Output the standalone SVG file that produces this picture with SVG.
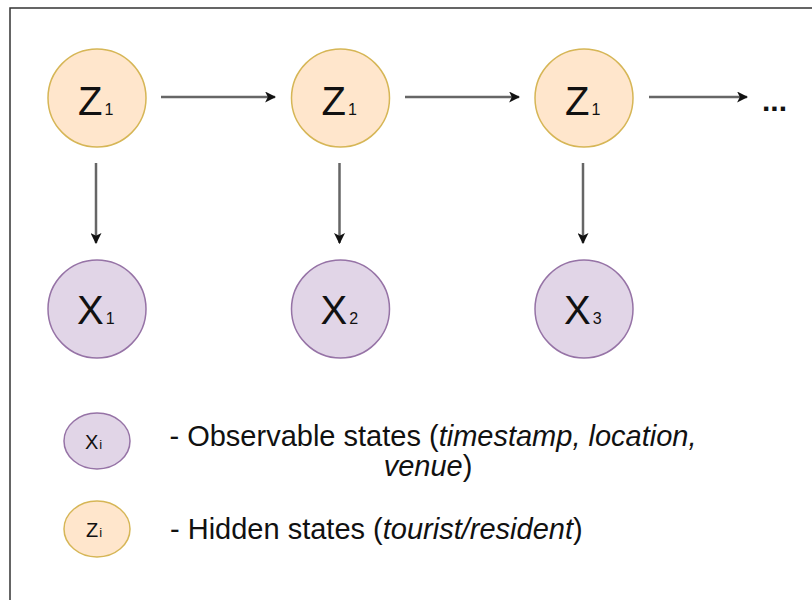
<svg xmlns="http://www.w3.org/2000/svg" width="812" height="600" viewBox="0 0 812 600">
  <style>
    .hidden { fill: #ffe6cc; stroke: #d6b656; stroke-width: 1.5; }
    .obs { fill: #e1d5e7; stroke: #9673a6; stroke-width: 1.5; }
    .big { font-family: "Liberation Sans", Arial, sans-serif; font-size: 40px; fill: #111; }
    .sub { font-family: "Liberation Sans", Arial, sans-serif; font-size: 16px; fill: #111; }
    .lg { font-family: "Liberation Sans", Arial, sans-serif; font-size: 20px; fill: #111; }
    .lgs { font-family: "Liberation Sans", Arial, sans-serif; font-size: 13px; fill: #111; }
    .txt { font-family: "Liberation Sans", Arial, sans-serif; font-size: 29px; fill: #111; }
    .dots { font-family: "Liberation Sans", Arial, sans-serif; font-size: 30px; font-weight: bold; fill: #111; }
    .edge { stroke: #666; stroke-width: 2.5; fill: none; marker-end: url(#arr); }
  </style>
  <defs>
    <marker id="arr" viewBox="0 0 10 10" refX="9" refY="5" markerWidth="11" markerHeight="11" markerUnits="userSpaceOnUse" orient="auto">
      <path d="M0,0 L10,5 L0,10 L2.5,5 Z" fill="#111"/>
    </marker>
  </defs>
  <rect x="0" y="0" width="812" height="600" fill="#fff"/>
  <!-- frame -->
  <path d="M10,600 V8 H812" fill="none" stroke="#333" stroke-width="1.5"/>

  <g id="connectors">
    <line class="edge" x1="161" y1="97" x2="275" y2="97"/>
    <line class="edge" x1="405" y1="97" x2="519" y2="97"/>
    <line class="edge" x1="649" y1="97" x2="747" y2="97"/>
    <line class="edge" x1="96" y1="163" x2="96" y2="243"/>
    <line class="edge" x1="339.5" y1="163" x2="339.5" y2="243"/>
    <line class="edge" x1="583" y1="163" x2="583" y2="243"/>
  </g>

  <g id="z1a">
    <circle class="hidden" cx="97" cy="98" r="49"/>
    <text class="big" x="78" y="115">Z<tspan class="sub" dx="2">1</tspan></text>
  </g>
  <g id="z1b">
    <circle class="hidden" cx="340.5" cy="98" r="49"/>
    <text class="big" x="321.5" y="115">Z<tspan class="sub" dx="2">1</tspan></text>
  </g>
  <g id="z1c">
    <circle class="hidden" cx="584" cy="98" r="49"/>
    <text class="big" x="565" y="115">Z<tspan class="sub" dx="2">1</tspan></text>
  </g>
  <g id="ellipsis">
    <text class="dots" x="762" y="111">...</text>
  </g>

  <g id="x1">
    <circle class="obs" cx="97" cy="309" r="49"/>
    <text class="big" x="77" y="324">X<tspan class="sub" dx="2">1</tspan></text>
  </g>
  <g id="x2">
    <circle class="obs" cx="340.5" cy="309" r="49"/>
    <text class="big" x="320.5" y="324">X<tspan class="sub" dx="2">2</tspan></text>
  </g>
  <g id="x3">
    <circle class="obs" cx="584" cy="309" r="49"/>
    <text class="big" x="564" y="324">X<tspan class="sub" dx="2">3</tspan></text>
  </g>

  <g id="legend-obs">
    <ellipse class="obs" cx="97" cy="441" rx="33" ry="28"/>
    <text class="lg" x="85" y="449">X<tspan class="lgs" dx="1">i</tspan></text>
    <text class="txt" text-anchor="middle" x="433" y="446">- Observable states (<tspan font-style="italic">timestamp, location,</tspan></text>
    <text class="txt" text-anchor="middle" x="428" y="476"><tspan font-style="italic">venue</tspan>)</text>
  </g>
  <g id="legend-hidden">
    <ellipse class="hidden" cx="97" cy="529" rx="33" ry="28"/>
    <text class="lg" x="86" y="537">Z<tspan class="lgs" dx="1">i</tspan></text>
    <text class="txt" x="170" y="539">- Hidden states (<tspan font-style="italic">tourist/resident</tspan>)</text>
  </g>
</svg>
